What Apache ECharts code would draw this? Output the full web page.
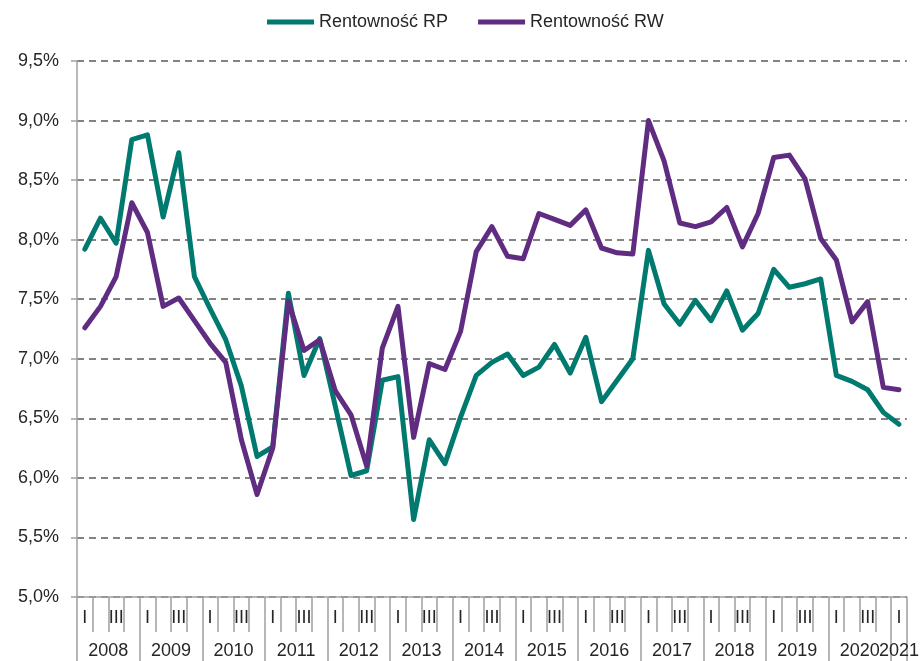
<!DOCTYPE html>
<html>
<head>
<meta charset="utf-8">
<script src="https://cdn.jsdelivr.net/npm/echarts@6/dist/echarts.min.js"></script>
<style>
  html, body { margin: 0; padding: 0; background: #fff; }
  #chart { width: 922px; height: 661px; }
</style>
</head>
<body>
<div id="chart"></div>
<script>
// lata i kwartały (2021 tylko I kwartał)
const years = ['2008', '2009', '2010', '2011', '2012', '2013', '2014', '2015', '2016', '2017', '2018', '2019', '2020', '2021'];
const quarters = ['I', 'II', 'III', 'IV'];
const quartersPerYear = [4, 4, 4, 4, 4, 4, 4, 4, 4, 4, 4, 4, 4, 1];

// rentowność w %
const rentownoscRP = [7.92, 8.18, 7.97, 8.84, 8.88, 8.19, 8.73, 7.69, 7.42, 7.16,
  6.77, 6.18, 6.26, 7.55, 6.86, 7.17, 6.60, 6.02, 6.06, 6.82,
  6.85, 5.65, 6.32, 6.12, 6.51, 6.86, 6.97, 7.04, 6.86, 6.93,
  7.12, 6.88, 7.18, 6.64, 6.82, 7.00, 7.91, 7.46, 7.29, 7.49,
  7.32, 7.57, 7.24, 7.38, 7.75, 7.60, 7.63, 7.67, 6.86, 6.81,
  6.74, 6.55, 6.45];
const rentownoscRW = [7.26, 7.44, 7.69, 8.31, 8.06, 7.44, 7.51, 7.32, 7.13, 6.97,
  6.32, 5.86, 6.25, 7.48, 7.07, 7.16, 6.73, 6.53, 6.10, 7.09,
  7.44, 6.34, 6.96, 6.91, 7.23, 7.90, 8.11, 7.86, 7.84, 8.22,
  8.17, 8.12, 8.25, 7.93, 7.89, 7.88, 9.00, 8.66, 8.14, 8.11,
  8.15, 8.27, 7.94, 8.22, 8.69, 8.71, 8.51, 8.01, 7.83, 7.31,
  7.48, 6.76, 6.74];

// kategorie osi X + pozycje podziałek lat
let categories = [];
let yearTicks = [];
let yearLabelPos = [];
let yearByPos = {};
let start = 0;
years.forEach((y, k) => {
  const n = quartersPerYear[k];
  for (let q = 0; q < n; q++) {
    categories.push(y + '-' + quarters[q]);
  }
  yearTicks.push(start - 0.5);
  const mid = start + n / 2 - 0.5;
  yearLabelPos.push(mid);
  yearByPos[mid] = y;
  start += n;
});
yearTicks.push(start - 0.5);
// ostatni rok osobno, żeby etykiety mogły na siebie zachodzić jak w Excelu
const lastYearPos = yearLabelPos.pop();

const font = 'Arial, "Liberation Sans", sans-serif';
const textColor = '#262626';
const axisGray = '#a0a0a0';

const yearLabelStyle = {
  hideOverlap: false,
  margin: 45,
  fontSize: 18,
  color: textColor,
  fontFamily: font,
  formatter: v => yearByPos[v] || ''
};

let myChart = echarts.init(document.getElementById('chart'), null, { renderer: 'canvas' });

let option = {
  animation: false,
  backgroundColor: '#ffffff',
  textStyle: { fontFamily: font },
  legend: {
    top: 8,
    left: 262,
    icon: 'rect',
    itemWidth: 47,
    itemHeight: 5,
    itemGap: 30,
    textStyle: { fontSize: 18, color: textColor, fontFamily: font },
    data: ['Rentowność RP', 'Rentowność RW']
  },
  grid: {
    left: 77,
    right: 14,
    top: 61,
    bottom: 64,
    containLabel: false
  },
  xAxis: [
    {
      type: 'category',
      data: categories,
      boundaryGap: true,
      position: 'bottom',
      axisLine: { show: true, onZero: false, lineStyle: { color: axisGray, width: 1.5 } },
      axisTick: {
        show: true,
        interval: 0,
        alignWithLabel: false,
        length: 35,
        lineStyle: { color: axisGray, width: 1.5 }
      },
      axisLabel: {
        interval: 1,
        margin: 12,
        fontSize: 18,
        color: textColor,
        fontFamily: font,
        formatter: v => v.split('-')[1]
      },
      splitLine: { show: false }
    },
    {
      // druga linia osi: lata
      type: 'value',
      position: 'bottom',
      min: -0.5,
      max: start - 0.5,
      axisLine: { show: false, onZero: false },
      axisTick: {
        show: true,
        customValues: yearTicks,
        length: 70,
        lineStyle: { color: axisGray, width: 1.5 }
      },
      axisLabel: Object.assign({ customValues: yearLabelPos }, yearLabelStyle),
      splitLine: { show: false }
    },
    {
      // etykieta 2021
      type: 'value',
      position: 'bottom',
      min: -0.5,
      max: start - 0.5,
      axisLine: { show: false, onZero: false },
      axisTick: { show: false },
      axisLabel: Object.assign({ customValues: [lastYearPos] }, yearLabelStyle),
      splitLine: { show: false }
    }
  ],
  yAxis: {
    type: 'value',
    min: 5,
    max: 9.5,
    interval: 0.5,
    axisLine: { show: true, onZero: false, lineStyle: { color: axisGray, width: 1.5 } },
    axisTick: { show: true, length: 6, lineStyle: { color: axisGray, width: 1.5 } },
    axisLabel: {
      margin: 18,
      fontSize: 18,
      color: textColor,
      fontFamily: font,
      formatter: v => v.toFixed(1).replace('.', ',') + '%'
    },
    splitLine: { //linie siatki
      show: true,
      lineStyle: { color: '#595959', width: 1.5, type: [7, 5] }
    }
  },
  series: [
    {
      name: 'Rentowność RP',
      type: 'line',
      xAxisIndex: 0,
      data: rentownoscRP,
      showSymbol: false,
      symbol: 'none',
      color: '#007A6E',
      lineStyle: { color: '#007A6E', width: 5, join: 'round', cap: 'round' }
    },
    {
      name: 'Rentowność RW',
      type: 'line',
      xAxisIndex: 0,
      data: rentownoscRW,
      showSymbol: false,
      symbol: 'none',
      color: '#5F2C82',
      lineStyle: { color: '#5F2C82', width: 5, join: 'round', cap: 'round' }
    }
  ]
};

myChart.setOption(option);
</script>
</body>
</html>
